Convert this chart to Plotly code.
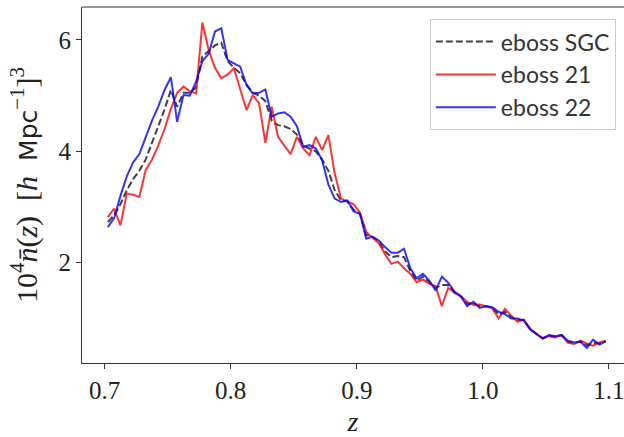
import numpy as np
import plotly.graph_objects as go

z = [round(0.7025 + 0.005 * i, 4) for i in range(80)]

n_sgc = [2.73, 2.85, 3.05, 3.30, 3.50, 3.65, 3.85, 4.15, 4.45, 4.75,
         5.10, 4.80, 5.05, 5.05, 5.15, 5.70, 5.80, 5.90, 5.95, 5.62,
         5.50, 5.40, 5.20, 5.05, 5.00, 4.90, 4.55, 4.47, 4.45, 4.40,
         4.30, 4.10, 4.05, 4.00, 3.85, 3.65, 3.30, 3.12, 3.10, 2.95,
         2.88, 2.50, 2.46, 2.38, 2.20, 2.10, 2.12, 2.10, 1.85, 1.68,
         1.75, 1.65, 1.55, 1.60, 1.60, 1.47, 1.40, 1.26, 1.27, 1.22,
         1.22, 1.19, 1.07, 1.12, 1.03, 0.97, 0.97, 0.81, 0.72, 0.64,
         0.69, 0.67, 0.70, 0.58, 0.56, 0.59, 0.52, 0.56, 0.55, 0.59]

n_21 = [2.82, 2.97, 2.67, 3.24, 3.22, 3.18, 3.66, 3.85, 4.10, 4.40,
        4.76, 5.05, 5.16, 5.08, 5.04, 6.31, 5.82, 5.50, 5.31, 5.38,
        5.49, 5.10, 4.74, 5.01, 4.86, 4.15, 4.80, 4.26, 4.10, 3.95,
        4.26, 4.05, 3.93, 4.26, 4.02, 4.29, 3.60, 3.15, 3.10, 3.05,
        2.90, 2.55, 2.45, 2.35, 2.15, 1.98, 2.02, 1.90, 1.80, 1.65,
        1.70, 1.62, 1.58, 1.22, 1.55, 1.46, 1.40, 1.30, 1.24, 1.25,
        1.22, 1.18, 1.00, 1.17, 1.05, 0.94, 0.98, 0.82, 0.72, 0.65,
        0.68, 0.66, 0.70, 0.56, 0.54, 0.60, 0.55, 0.51, 0.57, 0.60]

n_22 = [2.64, 2.80, 3.20, 3.55, 3.80, 3.95, 4.25, 4.55, 4.80, 5.10,
        5.33, 4.53, 5.01, 5.00, 5.25, 5.62, 5.75, 6.15, 6.21, 5.64,
        5.58, 5.52, 5.19, 5.04, 5.05, 5.11, 4.62, 4.68, 4.70, 4.62,
        4.45, 4.08, 4.11, 4.05, 3.84, 3.40, 3.15, 3.09, 3.12, 2.92,
        2.88, 2.43, 2.47, 2.40, 2.28, 2.18, 2.18, 2.25, 1.90, 1.72,
        1.80, 1.68, 1.50, 1.75, 1.64, 1.48, 1.40, 1.22, 1.30, 1.19,
        1.22, 1.20, 1.12, 1.08, 1.00, 1.00, 0.96, 0.80, 0.72, 0.64,
        0.70, 0.68, 0.70, 0.60, 0.57, 0.58, 0.47, 0.62, 0.53, 0.59]

x_ticks = [0.7, 0.8, 0.9, 1.0, 1.1]
x_tick_labels = ["0.7", "0.8", "0.9", "1.0", "1.1"]
y_ticks = [2, 4, 6]
y_tick_labels = ["2", "4", "6"]

labels = ["eboss SGC", "eboss 21", "eboss 22"]

fig = go.Figure()
fig.add_trace(go.Scatter(x=z, y=n_sgc, mode="lines", name=labels[0],
                         line=dict(color="rgba(0,0,0,0.75)", width=2, dash="7px,3px")))
fig.add_trace(go.Scatter(x=z, y=n_21, mode="lines", name=labels[1],
                         line=dict(color="rgba(255,0,0,0.8)", width=2)))
fig.add_trace(go.Scatter(x=z, y=n_22, mode="lines", name=labels[2],
                         line=dict(color="rgba(0,0,255,0.8)", width=2)))

axis_font = dict(family="Liberation Serif", size=25, color="#222")

ytitle = ("10<sup>4</sup><i>n̄</i>(<i>z</i>)  [<i>h</i>  "
          "<span style='font-family:DejaVu Sans;font-size:25px'>Mpc</span>"
          "<sup>−1</sup>]<sup>3</sup>")

fig.update_layout(
    width=624, height=437,
    margin=dict(l=82, r=0, t=7, b=74, autoexpand=False),
    paper_bgcolor="white", plot_bgcolor="white",
    showlegend=True,
    legend=dict(x=0.985, y=0.966, xanchor="right", yanchor="top",
                bgcolor="white", bordercolor="#cccccc", borderwidth=1,
                font=dict(family="Lato", size=23, color="#333"),
                itemwidth=60),
    xaxis=dict(range=[0.682, 1.112], tickvals=x_ticks, ticktext=x_tick_labels,
               ticks="outside", ticklen=5, tickcolor="#333", tickwidth=1,
               showline=True, linecolor="#333", linewidth=1, mirror=False,
               showgrid=False, zeroline=False, tickfont=axis_font, automargin=False,
               ticklabeloverflow="allow",
               title=dict(text="<i>z</i>", font=dict(family="Liberation Serif", size=28, color="#222"),
                          standoff=8)),
    yaxis=dict(range=[0.2, 6.59], tickvals=y_ticks, ticktext=y_tick_labels,
               ticks="outside", ticklen=5, tickcolor="#333", tickwidth=1,
               showline=True, linecolor="#333", linewidth=1,
               showgrid=False, zeroline=False, tickfont=axis_font, automargin=False,
               title=dict(text=ytitle,
                          font=dict(family="Liberation Serif", size=30, color="#222"),
                          standoff=12)),
)

# top spine
fig.add_shape(type="line", xref="paper", yref="paper", x0=0, x1=1, y0=1, y1=1,
              line=dict(color="#333", width=1))

fig.write_html("out.html", config={"displayModeBar": False},
               post_script="document.body.style.margin='0';document.body.style.overflow='hidden';")
